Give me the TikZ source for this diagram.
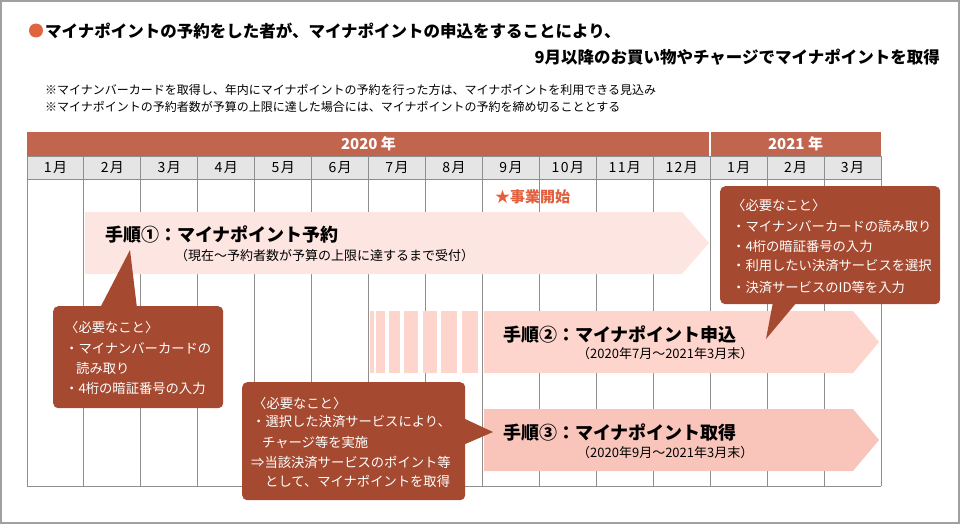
\documentclass[tikz,border=0pt]{standalone}
\usepackage{fontspec}
\setmainfont{Noto Sans CJK JP}
\newfontfamily\jpsp[LetterSpace=10]{Noto Sans CJK JP}
\definecolor{bandc}{HTML}{C1654F}
\definecolor{callc}{HTML}{A54A31}
\definecolor{starc}{HTML}{E2603E}
\definecolor{dotc}{HTML}{E0643F}
\definecolor{monthc}{HTML}{E5E5E5}
\definecolor{gridc}{HTML}{8E8E8E}
\definecolor{arrA}{HTML}{FDE5E1}
\definecolor{arrB}{HTML}{FDD5CD}
\definecolor{arrC}{HTML}{F9C5BA}
\definecolor{framec}{HTML}{A0A0A0}
\begin{document}
\begin{tikzpicture}[x=1pt,y=-1pt,
  txt/.style={inner sep=0pt, anchor=west},
  titletxt/.style={txt, font=\fontsize{16.5}{20}\selectfont\bfseries},
  notetxt/.style={txt, font=\fontsize{12}{14}\selectfont},
  monthtxt/.style={inner sep=0pt, font=\jpsp\fontsize{14}{16}\selectfont},
  yeartxt/.style={inner sep=0pt, text=white, font=\fontsize{15}{16}\selectfont\bfseries},
  steptitle/.style={txt, font=\fontsize{18}{20}\selectfont\bfseries},
  stepsub/.style={txt, font=\fontsize{13}{15}\selectfont},
  ctxt/.style={txt, text=white, font=\fontsize{13.3}{15}\selectfont},
  callbox/.style={fill=callc, rounded corners=5pt, anchor=north west, inner sep=0pt},
  gridline/.style={draw=gridc, line width=0.9pt}]
\useasboundingbox (0,0) rectangle (960,524);
\draw[framec, line width=2pt] (1,1) rectangle (958.5,522.5);

% title
\fill[dotc] (36,30.5) circle (7);
\node[titletxt] (t1) at (45,31) {マイナポイントの予約をした者が、マイナポイントの申込をすることにより、};
\node[titletxt, anchor=east] (t2) at (940,57) {9月以降のお買い物やチャージでマイナポイントを取得};
\node[notetxt] (n1) at (45,90) {※マイナンバーカードを取得し、年内にマイナポイントの予約を行った方は、マイナポイントを利用できる見込み};
\node[notetxt] (n2) at (45,107) {※マイナポイントの予約者数が予算の上限に達した場合には、マイナポイントの予約を締め切ることとする};

% year band
\fill[bandc] (27,132) rectangle (881,156);
\draw[white, line width=1.5pt] (710,132) -- (710,156);
\node[yeartxt] (y20) at (368.5,144) {2020 年};
\node[yeartxt] (y21) at (795.5,144) {2021 年};

% month row and grid
\fill[monthc] (27,156) rectangle (881,179);
\foreach \k in {0,...,15} {
  \draw[gridline] ({27+\k*56.933},156) -- ({27+\k*56.933},486);
}
\draw[gridline] (27,156) -- (881,156);
\draw[gridline] (27,179) -- (881,179);
\draw[gridline] (27,486) -- (881,486);
\foreach \i/\m in {1/1,2/2,3/3,4/4,5/5,6/6,7/7,8/8,9/9,10/10,11/11,12/12,13/1,14/2,15/3} {
  \node[monthtxt] (m\i) at ({27+(\i-0.5)*56.933},167.5) {\m 月};
}

% star
\node[txt, text=starc, font=\fontsize{15}{16}\selectfont\bfseries] (star) at (495,197) {★事業開始};

% step 1 arrow
\fill[arrA] (85,212) -- (682,212) -- (709,243) -- (682,274) -- (85,274) -- cycle;
\node[steptitle] (s1) at (105,234) {手順①：マイナポイント予約};
\node[stepsub] (s1b) at (175,256) {（現在～予約者数が予算の上限に達するまで受付）};

% step 2 arrow
\foreach \a/\b in {370/374,376/385,389/400,404/418,423/437,441/457,462/478} {
  \fill[arrB] (\a,311) rectangle (\b,373);
}
\fill[arrB] (484,311) -- (853,311) -- (879,342) -- (853,373) -- (484,373) -- cycle;
\node[steptitle] (s2) at (503,334) {手順②：マイナポイント申込};
\node[stepsub] (s2b) at (577,354) {（2020年7月～2021年3月末）};

% step 3 arrow
\fill[arrC] (484,409) -- (853,409) -- (879,440) -- (853,471) -- (484,471) -- cycle;
\node[steptitle] (s3) at (503,432) {手順③：マイナポイント取得};
\node[stepsub] (s3b) at (577,453) {（2020年9月～2021年3月末）};

% callout top right
\node[callbox, minimum width=220pt, minimum height=118pt] (cTR) at (720,186) {};
\coordinate (pTR) at (766,339);
\fill[callc] (773,302) -- (pTR) -- (797,302) -- cycle;
\node[ctxt] (cTR0) at (732,205) {〈必要なこと〉};
\node[ctxt] (cTR1) at (732,226) {・マイナンバーカードの読み取り};
\node[ctxt] (cTR2) at (732,246) {・4桁の暗証番号の入力};
\node[ctxt] (cTR3) at (732,266) {・利用したい決済サービスを選択};
\node[ctxt] (cTR4) at (732,287) {・決済サービスのID等を入力};

% callout left
\node[callbox, minimum width=170pt, minimum height=102pt] (cL) at (53,306) {};
\coordinate (pL) at (130,250);
\fill[callc] (100,308) -- (pL) -- (137,308) -- cycle;
\node[ctxt] (cL0) at (65,327) {〈必要なこと〉};
\node[ctxt] (cL1) at (65,348) {・マイナンバーカードの};
\node[ctxt] (cL2) at (76,368) {読み取り};
\node[ctxt] (cL3) at (65,388) {・4桁の暗証番号の入力};

% callout bottom
\node[callbox, minimum width=223pt, minimum height=118pt] (cB) at (242,382) {};
\coordinate (pB) at (493,432);
\fill[callc] (463,418) -- (pB) -- (463,445) -- cycle;
\node[ctxt] (cB0) at (253,403) {〈必要なこと〉};
\node[ctxt] (cB1) at (252,422) {・選択した決済サービスにより、};
\node[ctxt] (cB2) at (262,442) {チャージ等を実施};
\node[ctxt] (cB3) at (251,462) {⇒当該決済サービスのポイント等};
\node[ctxt] (cB4) at (265,481) {として、マイナポイントを取得};
\end{tikzpicture}
\end{document}
